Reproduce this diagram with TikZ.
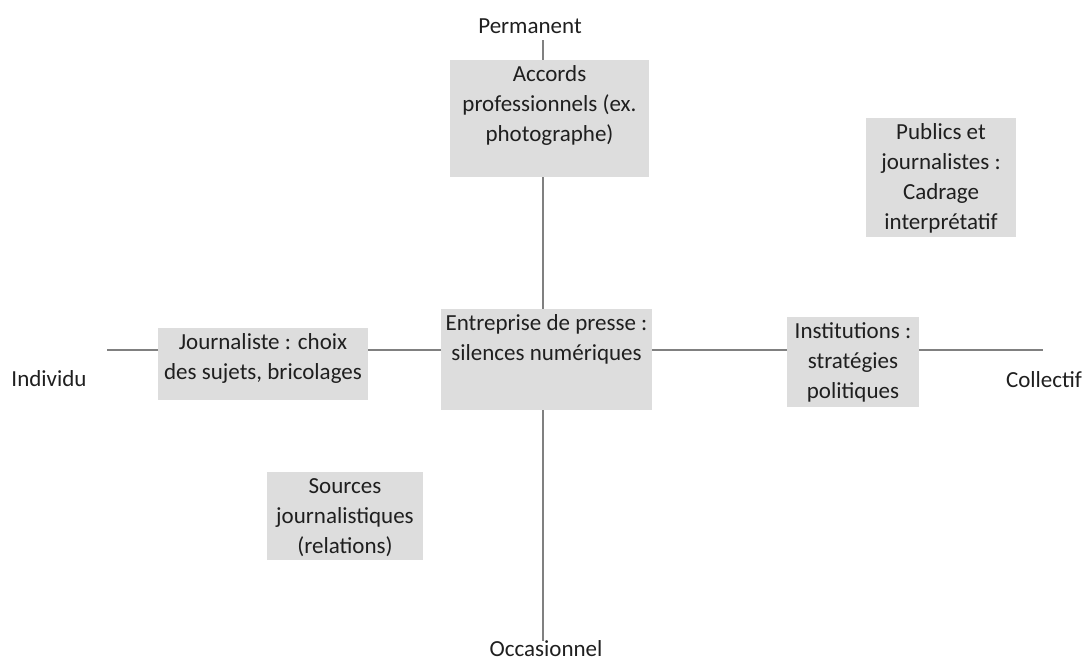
\documentclass[tikz,border=0pt]{standalone}
\usepackage{fontspec}
\setmainfont{Carlito}
\usetikzlibrary{positioning}
\definecolor{boxgray}{HTML}{DDDDDD}
\definecolor{axisgray}{HTML}{808080}
\definecolor{txtgray}{HTML}{1F1F1F}

\begin{document}
\begin{tikzpicture}[x=1pt,y=-1pt,
  axe/.style={draw=axisgray,line width=1.4pt},
  zone/.style={fill=boxgray,draw=none,inner sep=0pt,rectangle},
  lbl/.style={text=txtgray,font=\fontsize{23}{30}\selectfont,align=center,inner sep=0pt,anchor=base}]
  \useasboundingbox (0,0) rectangle (1086,662);

  \coordinate (haut) at (543,40);    %top end of time axis
  \coordinate (bas) at (543,641);    %bottom end of time axis
  \coordinate (gauche) at (107,350); %left end of scale axis
  \coordinate (droite) at (1043,350);%right end of scale axis
  \draw[axe] (haut) -- (bas) ;
  \draw[axe] (gauche) -- (droite) ;

  \node[lbl] (permanent) at (530,33) {Permanent};
  \node[lbl] (occasionnel) at (546,656) {Occasionnel};
  \node[lbl] (individu) at (49,386) {Individu};
  \node[lbl] (collectif) at (1044,387) {Collectif};

  % grey zones
  \node[zone,minimum width=199pt,minimum height=117pt] (accords) at (549.5,118.5) {};
  \node[zone,minimum width=210pt,minimum height=72pt] (journaliste) at (263,364) {};
  \node[zone,minimum width=211pt,minimum height=101pt] (entreprise) at (546.5,359.5) {};
  \node[zone,minimum width=132pt,minimum height=90pt] (institutions) at (853,362) {};
  \node[zone,minimum width=156pt,minimum height=88pt] (sources) at (345,516) {};
  \node[zone,minimum width=150pt,minimum height=119pt] (publics) at (941,177.5) {};

  % texts in the zones (base = last line)
  \node[lbl] (accords-t) at ([yshift=-82pt]accords.north) {Accords\\professionnels (ex.\\photographe)};
  \node[lbl] (journaliste-t) at ([yshift=-52pt]journaliste.north) {Journaliste : choix\\des sujets, bricolages};
  \node[lbl] (entreprise-t) at ([yshift=-52pt]entreprise.north) {Entreprise de presse :\\silences numériques};
  \node[lbl] (institutions-t) at ([yshift=-82pt]institutions.north) {Institutions :\\stratégies\\politiques};
  \node[lbl] (sources-t) at ([yshift=-82pt]sources.north) {Sources\\journalistiques\\(relations)};
  \node[lbl] (publics-t) at ([yshift=-112pt]publics.north) {Publics et\\journalistes :\\Cadrage\\interprétatif};
\end{tikzpicture}
\end{document}
